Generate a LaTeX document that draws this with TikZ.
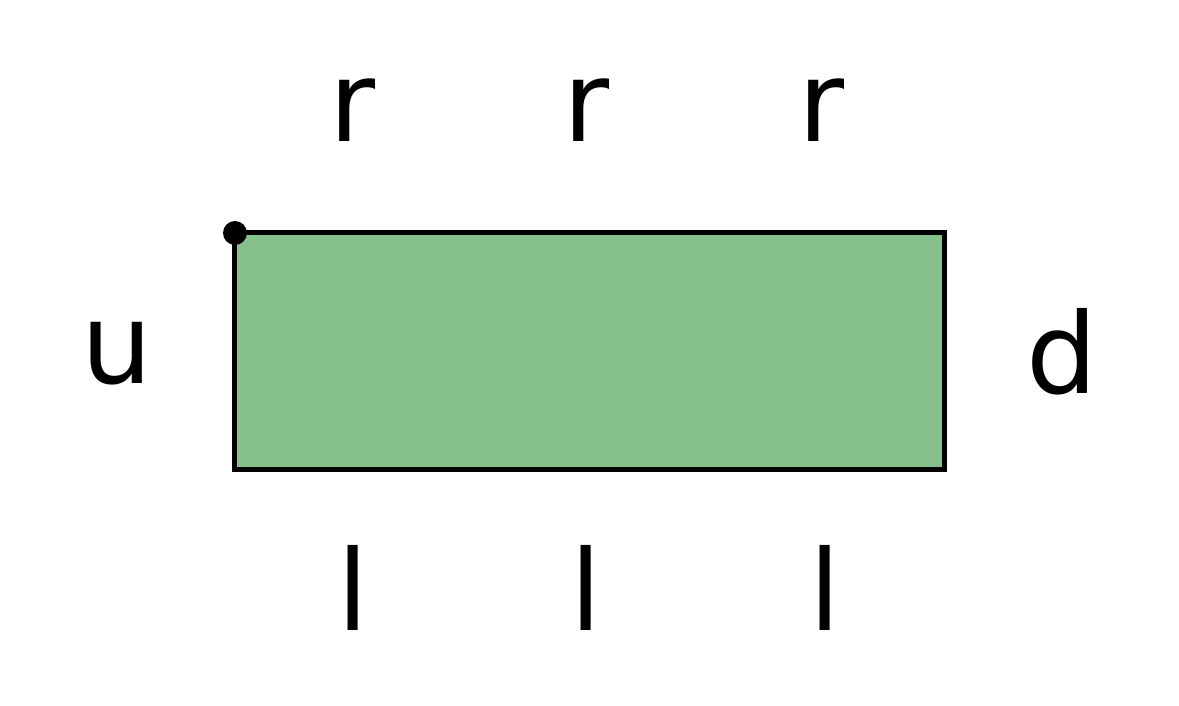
\documentclass[tikz,border=0pt]{standalone}
\usepackage{fontspec}
\setmainfont{DejaVu Sans}
\definecolor{boxgreen}{HTML}{86C18C}
\begin{document}
\begin{tikzpicture}[x=1bp,y=-1bp,
  lbl/.style={inner sep=0pt,anchor=base,font=\fontsize{112bp}{120bp}\selectfont},
  boxst/.style={draw=black,fill=boxgreen,line width=5bp,minimum width=709bp,minimum height=236bp,inner sep=0pt,outer sep=0pt}]
\useasboundingbox (0,0) rectangle (1179,706);
\node[boxst] (box) at (589.5,351) {};
\fill[black] (box.north west) circle (12bp);
\node[lbl] (r1) at (353,142) {r};
\node[lbl] (r2) at (587,142) {r};
\node[lbl] (r3) at (822,142) {r};
\node[lbl] (l1) at (353,630) {l};
\node[lbl] (l2) at (586,630) {l};
\node[lbl] (l3) at (825,630) {l};
\node[lbl] (u) at (117,383) {u};
\node[lbl] (d) at (1062,393) {d};
\end{tikzpicture}
\end{document}
